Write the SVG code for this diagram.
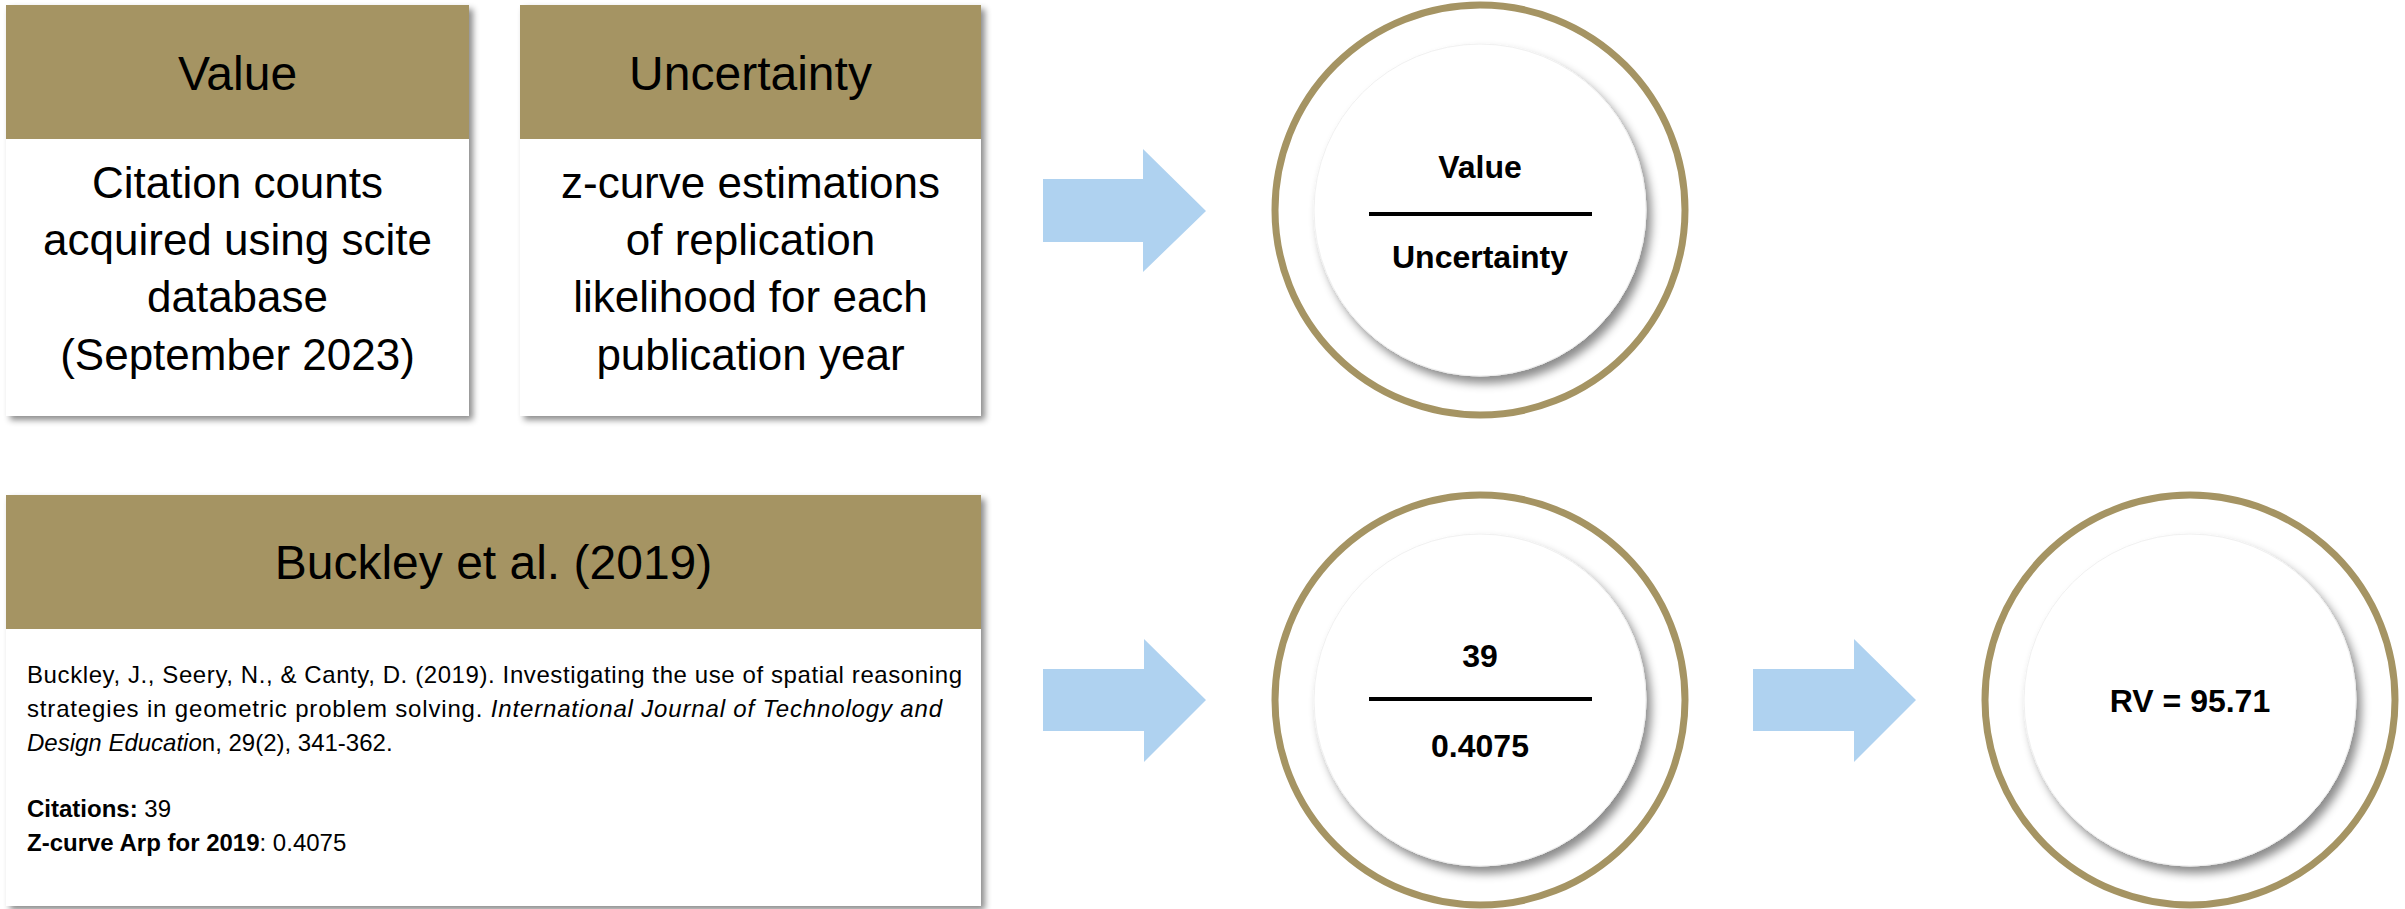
<svg xmlns="http://www.w3.org/2000/svg" width="2405" height="909" viewBox="0 0 2405 909">
  <defs>
    <filter id="boxShadow" x="-5%" y="-5%" width="115%" height="115%">
      <feDropShadow dx="4" dy="4" stdDeviation="3" flood-color="#000" flood-opacity="0.45"/>
    </filter>
    <filter id="circShadow" x="-15%" y="-15%" width="135%" height="135%">
      <feDropShadow dx="5" dy="7" stdDeviation="5" flood-color="#000" flood-opacity="0.45"/>
    </filter>
  </defs>
  <style>
    .box { fill: #ffffff; }
    .hdr { fill: #A59463; }
    .hdrText { font-family: "Liberation Sans", Arial, sans-serif; font-size: 48px; fill: #000; text-anchor: middle; }
    .body { font-family: "Liberation Sans", Arial, sans-serif; font-size: 44px; fill: #000; text-anchor: middle; }
    .cite { font-family: "Liberation Sans", Arial, sans-serif; font-size: 24px; fill: #000; }
    .ring { fill: #ffffff; stroke: #A59463; stroke-width: 7; }
    .inner { fill: #ffffff; stroke: #f0f0f0; stroke-width: 1; }
    .ctext { font-family: "Liberation Sans", Arial, sans-serif; font-size: 32px; font-weight: bold; fill: #000; text-anchor: middle; }
    .bar { stroke: #000; stroke-width: 4; }
    .arrow { fill: #AFD2F0; }
  </style>

  <g id="node-value">
    <rect class="box" x="6" y="5" width="463" height="411" filter="url(#boxShadow)"/>
    <rect class="hdr" x="6" y="5" width="463" height="134"/>
    <text class="hdrText" x="237.5" y="90">Value</text>
    <text class="body" x="237.5" y="198">Citation counts</text>
    <text class="body" x="237.5" y="255">acquired using scite</text>
    <text class="body" x="237.5" y="312">database</text>
    <text class="body" x="237.5" y="370">(September 2023)</text>
  </g>

  <g id="node-uncertainty">
    <rect class="box" x="520" y="5" width="461" height="411" filter="url(#boxShadow)"/>
    <rect class="hdr" x="520" y="5" width="461" height="134"/>
    <text class="hdrText" x="750.5" y="90">Uncertainty</text>
    <text class="body" x="750.5" y="198">z-curve estimations</text>
    <text class="body" x="750.5" y="255">of replication</text>
    <text class="body" x="750.5" y="312">likelihood for each</text>
    <text class="body" x="750.5" y="370">publication year</text>
  </g>

  <g id="node-formula">
    <circle class="ring" cx="1480" cy="210" r="205"/>
    <circle class="inner" cx="1480" cy="210" r="166" filter="url(#circShadow)"/>
    <text class="ctext" x="1480" y="178">Value</text>
    <line class="bar" x1="1369" y1="214" x2="1592" y2="214"/>
    <text class="ctext" x="1480" y="268">Uncertainty</text>
  </g>

  <g id="node-buckley">
    <rect class="box" x="6" y="495" width="975" height="411" filter="url(#boxShadow)"/>
    <rect class="hdr" x="6" y="495" width="975" height="134"/>
    <text class="hdrText" x="493.5" y="579">Buckley et al. (2019)</text>
    <text class="cite" x="27" y="683" textLength="935" lengthAdjust="spacing">Buckley, J., Seery, N., &amp; Canty, D. (2019). Investigating the use of spatial reasoning</text>
    <text class="cite" x="27" y="717" textLength="915" lengthAdjust="spacing">strategies in geometric problem solving. <tspan font-style="italic">International Journal of Technology and</tspan></text>
    <text class="cite" x="27" y="751"><tspan font-style="italic">Design Educatio</tspan>n, 29(2), 341-362.</text>
    <text class="cite" x="27" y="817"><tspan font-weight="bold">Citations:</tspan> 39</text>
    <text class="cite" x="27" y="851"><tspan font-weight="bold">Z-curve Arp for 2019</tspan>: 0.4075</text>
  </g>

  <g id="node-ratio">
    <circle class="ring" cx="1480" cy="700" r="205"/>
    <circle class="inner" cx="1480" cy="700" r="166" filter="url(#circShadow)"/>
    <text class="ctext" x="1480" y="667">39</text>
    <line class="bar" x1="1369" y1="699" x2="1592" y2="699"/>
    <text class="ctext" x="1480" y="757">0.4075</text>
  </g>

  <g id="node-result">
    <circle class="ring" cx="2190" cy="700" r="205"/>
    <circle class="inner" cx="2190" cy="700" r="166" filter="url(#circShadow)"/>
    <text class="ctext" x="2190" y="712">RV = 95.71</text>
  </g>

  <g id="connectors">
    <polygon class="arrow" points="1043,179 1143,179 1143,149 1206,211 1143,272 1143,242 1043,242"/>
    <polygon class="arrow" points="1043,669 1144,669 1144,639 1206,700 1144,762 1144,731 1043,731"/>
    <polygon class="arrow" points="1753,669 1854,669 1854,639 1916,700 1854,762 1854,731 1753,731"/>
  </g>
</svg>
